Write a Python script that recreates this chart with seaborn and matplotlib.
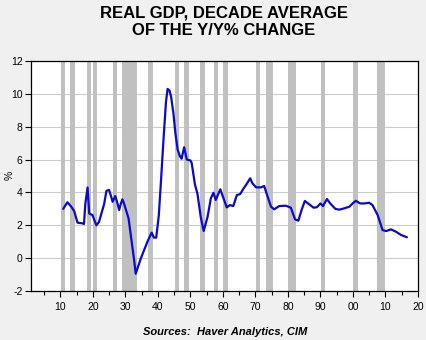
import matplotlib
matplotlib.use("Agg")
import matplotlib.pyplot as plt
import seaborn as sns
import pandas as pd
from matplotlib.ticker import MultipleLocator, FixedLocator

# ---- data ----
years = [1910.9, 1912.2, 1913.5, 1914.3, 1915.3, 1916.8, 1917.3, 1917.7, 1918.4,
         1918.9, 1919.9, 1921.1, 1921.9, 1923.5, 1924.2, 1925.0, 1925.5, 1926.1,
         1926.9, 1927.6, 1928.1, 1928.6, 1929.1, 1929.6, 1931.0, 1932.7, 1933.2,
         1934.8, 1936.8, 1938.1, 1938.8, 1939.5, 1940.3, 1941.0, 1941.8, 1942.5,
         1943.0, 1943.6, 1944.1, 1944.8, 1945.4, 1946.1, 1946.8, 1947.3, 1948.1,
         1948.9, 1950.0, 1950.4, 1951.4, 1952.2, 1953.2, 1954.1, 1955.3, 1956.3,
         1957.1, 1957.8, 1959.2, 1960.2, 1961.2, 1962.2, 1963.2, 1964.3, 1965.3,
         1966.4, 1967.1, 1968.4, 1969.1, 1970.2, 1971.7, 1972.7, 1973.6, 1974.8,
         1975.8, 1977.3, 1979.4, 1980.9, 1982.2, 1983.2, 1984.2, 1985.2, 1986.6,
         1987.9, 1988.9, 1990.0, 1990.8, 1992.0, 1993.0, 1994.6, 1995.8, 1997.3,
         1998.9, 1999.9, 2000.9, 2002.2, 2003.5, 2005.0, 2006.0, 2007.6, 2009.1,
         2010.2, 2011.7, 2013.2, 2014.8, 2016.6]
growth = [3.0, 3.4, 3.1, 2.85, 2.16, 2.12, 2.08, 3.3, 4.3,
          2.72, 2.62, 2.0, 2.2, 3.3, 4.1, 4.15, 3.84, 3.43,
          3.78, 3.33, 2.93, 3.3, 3.58, 3.33, 2.42, -0.1, -0.95,
          0.0, 1.0, 1.55, 1.25, 1.25, 2.6, 4.8, 7.4, 9.5,
          10.3, 10.2, 9.8, 8.8, 7.6, 6.6, 6.2, 6.05, 6.75,
          6.0, 5.95, 5.8, 4.5, 3.9, 2.5, 1.65, 2.52, 3.64,
          3.98, 3.54, 4.19, 3.64, 3.09, 3.23, 3.17, 3.84, 3.9,
          4.25, 4.45, 4.86, 4.55, 4.31, 4.31, 4.39, 3.84, 3.13,
          2.97, 3.17, 3.19, 3.07, 2.36, 2.28, 2.93, 3.48, 3.27,
          3.07, 3.1, 3.33, 3.17, 3.6, 3.33, 3.0, 2.95, 3.03,
          3.13, 3.33, 3.49, 3.33, 3.33, 3.37, 3.23, 2.62, 1.71,
          1.65, 1.75, 1.61, 1.41, 1.27]

recession_start = [1910.15, 1912.9, 1918.15, 1920.0, 1926.15, 1928.9, 1936.9,
                   1945.2, 1947.9, 1952.9, 1957.2, 1960.0, 1970.2, 1973.2,
                   1980.0, 1990.2, 2000.0, 2007.3]
recession_end = [1911.4, 1914.4, 1919.4, 1921.4, 1927.4, 1933.5, 1938.5,
                 1946.5, 1949.5, 1954.5, 1958.5, 1961.5, 1971.4, 1975.4,
                 1982.5, 1991.4, 2001.5, 2009.7]

tick_years = [1910, 1920, 1930, 1940, 1950, 1960, 1970, 1980, 1990, 2000, 2010, 2020]
tick_labels = ["10", "20", "30", "40", "50", "60", "70", "80", "90", "00", "10", "20"]
y_ticks = [-2, 0, 2, 4, 6, 8, 10, 12]

df = pd.DataFrame({"year": years, "growth": growth})

sns.set_theme(style="white")
plt.rcParams["font.family"] = ["Liberation Sans", "DejaVu Sans"]

fig = plt.figure(figsize=(4.26, 3.40), dpi=100, facecolor="#f0f0f0")
ax = fig.add_axes([31 / 426, 49 / 340, 387 / 426, 230 / 340])
ax.set_facecolor("white")

for s, e in zip(recession_start, recession_end):
    ax.axvspan(s, e, color="#c0c0c0", lw=0, zorder=1)

for yv in y_ticks:
    ax.axhline(yv, color="#cccccc", lw=0.8, zorder=0.5)

sns.lineplot(data=df, x="year", y="growth", ax=ax, color="#0a0acc",
             lw=1.6, estimator=None, sort=False, zorder=3)

ax.set_xlim(1901, 2020)
ax.set_ylim(-2, 12)
ax.xaxis.set_major_locator(FixedLocator(tick_years))
ax.set_xticklabels(tick_labels)
ax.xaxis.set_minor_locator(MultipleLocator(5))
ax.set_yticks(y_ticks)
ax.set_yticklabels([str(v) for v in y_ticks])

ax.tick_params(axis="both", which="major", direction="out", length=4, width=0.8,
               color="black", labelsize=7.5, pad=2, labelcolor="black",
               bottom=True, left=True)
ax.tick_params(axis="x", which="minor", direction="out", length=3, width=0.8,
               color="black", bottom=True)
ax.tick_params(axis="x", which="major", pad=4)

for sp in ax.spines.values():
    sp.set_visible(True)
    sp.set_color("black")
    sp.set_linewidth(0.9)

ax.set_xlabel("")
ax.set_ylabel("")
fig.text(10 / 426, 1 - 175 / 340, "%", rotation=90, ha="center", va="center",
         fontsize=7.5, color="black")

fig.text(0.526, 0.985, "REAL GDP, DECADE AVERAGE\nOF THE Y/Y% CHANGE",
         ha="center", va="top", fontsize=12, fontweight="bold",
         linespacing=1.25, color="black")
fig.text(0.528, 0.023, "Sources:  Haver Analytics, CIM", ha="center",
         va="center", fontsize=8, fontweight="bold", fontstyle="italic",
         color="black")

fig.savefig("out.png", dpi=100, facecolor=fig.get_facecolor())
